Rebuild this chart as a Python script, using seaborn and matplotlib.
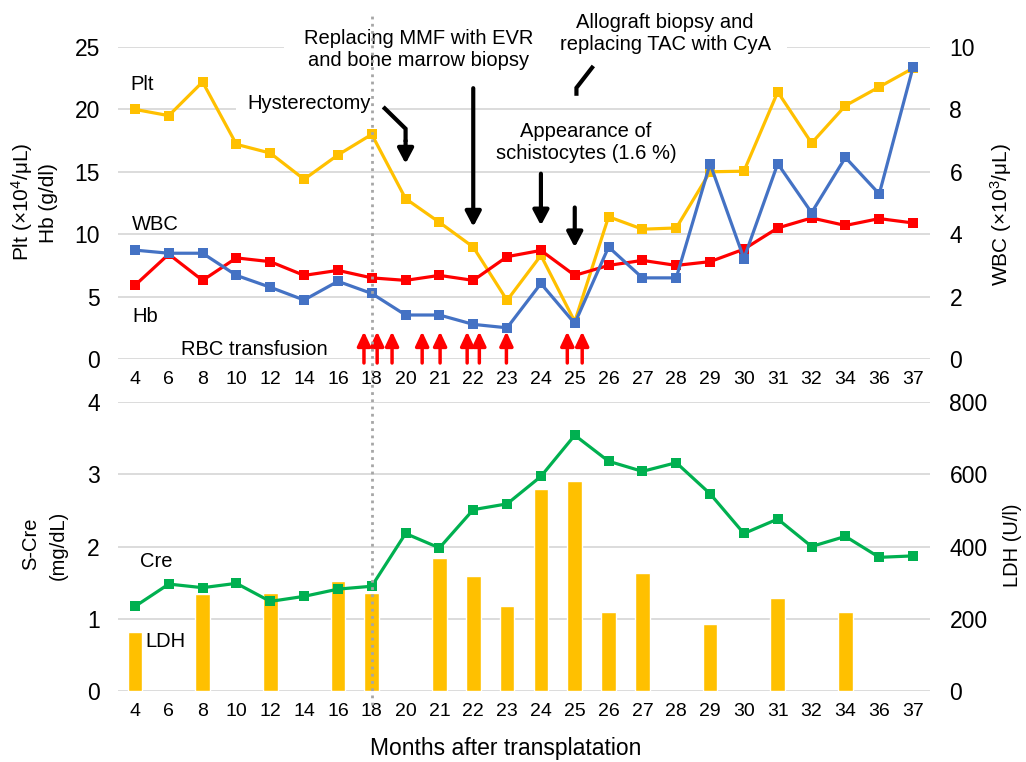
import numpy as np
import pandas as pd
import matplotlib
matplotlib.use('Agg')
import matplotlib.pyplot as plt
import matplotlib.transforms as mtransforms
from matplotlib.lines import Line2D
import seaborn as sns

# ---------------- data ----------------
months = ['4', '6', '8', '10', '12', '14', '16', '18', '20', '21', '22', '23',
          '24', '25', '26', '27', '28', '29', '30', '31', '32', '34', '36', '37']
plt_vals = [20.0, 19.5, 22.2, 17.2, 16.5, 14.4, 16.35, 18.0, 12.85, 10.95, 8.97, 4.7,
            8.3, 3.0, 11.4, 10.4, 10.5, 15.0, 15.05, 21.4, 17.3, 20.3, 21.8, 23.3]
hb_vals = [5.9, 8.4, 6.3, 8.1, 7.8, 6.7, 7.1, 6.5, 6.3, 6.7, 6.3, 8.2,
           8.7, 6.7, 7.5, 7.9, 7.5, 7.8, 8.8, 10.5, 11.3, 10.7, 11.25, 10.9]
wbc_vals = [3.49, 3.39, 3.39, 2.68, 2.30, 1.89, 2.49, 2.10, 1.41, 1.41, 1.11, 1.0,
            2.42, 1.14, 3.59, 2.6, 2.6, 6.26, 3.22, 6.26, 4.69, 6.46, 5.29, 9.36]
cre_vals = [1.17, 1.48, 1.43, 1.49, 1.24, 1.31, 1.41, 1.45, 2.18, 1.98, 2.51, 2.59,
            2.97, 3.54, 3.18, 3.04, 3.16, 2.73, 2.18, 2.38, 2.0, 2.14, 1.85, 1.87]
nan = np.nan
ldh_vals = [162, nan, 269, nan, 271, nan, 305, 271, nan, 368, 319, 234,
            559, 581, 218, 327, nan, 186, nan, 257, nan, 218, nan, nan]
# RBC transfusion events (position along the category axis)
transfusion_pos = [6.77, 7.16, 7.6, 8.49, 9.02, 9.82, 10.18, 10.98, 12.78, 13.22]

# ---------------- style ----------------
sns.set_theme(style='white')
plt.rcParams['font.family'] = ['Liberation Sans', 'DejaVu Sans']
plt.rcParams['mathtext.fontset'] = 'custom'
plt.rcParams['mathtext.rm'] = 'Liberation Sans'
plt.rcParams['mathtext.it'] = 'Liberation Sans:italic'
plt.rcParams['mathtext.bf'] = 'Liberation Sans:bold'
plt.rcParams['text.color'] = 'black'
plt.rcParams['axes.labelcolor'] = 'black'
plt.rcParams['xtick.color'] = 'black'
plt.rcParams['ytick.color'] = 'black'

C_PLT = '#FFC000'
C_HB = '#FF0000'
C_WBC = '#4472C4'
C_CRE = '#00B050'
C_GRID = '#D9D9D9'

W, H = 1026, 762
fig = plt.figure(figsize=(W / 100, H / 100), dpi=100)

def fx(px):
    return px / W

def fy(py):
    return 1 - py / H

ax_t = fig.add_axes([fx(118), fy(359), fx(812), 312 / H])
ax_t2 = ax_t.twinx()
ax_b = fig.add_axes([fx(118), fy(691), fx(812), 289 / H])
ax_b2 = ax_b.twinx()

pos = np.arange(len(months))
top_df = pd.DataFrame({'pos': pos, 'month': months, 'Plt': plt_vals,
                       'Hb': hb_vals, 'WBC': wbc_vals})
bot_df = pd.DataFrame({'pos': pos, 'month': months, 'Cre': cre_vals, 'LDH': ldh_vals})

lw = 2.3
ms = 6.5
# ---------------- top panel ----------------
sns.lineplot(data=top_df, x='pos', y='Plt', ax=ax_t, color=C_PLT, lw=lw,
             marker='s', markersize=ms, markeredgewidth=0, zorder=3)
sns.lineplot(data=top_df, x='pos', y='Hb', ax=ax_t, color=C_HB, lw=lw,
             marker='s', markersize=ms, markeredgewidth=0, zorder=3)
sns.lineplot(data=top_df, x='pos', y='WBC', ax=ax_t2, color=C_WBC, lw=lw,
             marker='s', markersize=ms, markeredgewidth=0, zorder=3)

ax_t.set_ylim(0, 25)
ax_t2.set_ylim(0, 10)
ax_t.set_yticks([0, 5, 10, 15, 20, 25])
ax_t2.set_yticks([0, 2, 4, 6, 8, 10])
ax_t.yaxis.grid(True, color=C_GRID, lw=1.3)
ax_t.set_axisbelow(True)

# ---------------- bottom panel ----------------
sns.barplot(data=bot_df, x='month', y='LDH', order=months, ax=ax_b2,
            color=C_PLT, saturation=1, width=0.43, errorbar=None)
sns.lineplot(data=bot_df, x='pos', y='Cre', ax=ax_b, color=C_CRE, lw=lw,
             marker='s', markersize=ms, markeredgewidth=0, zorder=3)
ax_b.set_zorder(ax_b2.get_zorder() + 1)
ax_b.patch.set_visible(False)
ax_b.set_ylim(0, 4)
ax_b2.set_ylim(0, 800)
ax_b.set_yticks([0, 1, 2, 3, 4])
ax_b2.set_yticks([0, 200, 400, 600, 800])
ax_b2.yaxis.grid(True, color=C_GRID, lw=1.3)
ax_b2.set_axisbelow(True)

for a in (ax_t, ax_t2, ax_b, ax_b2):
    for s in a.spines.values():
        s.set_visible(False)
    a.set_xlabel('')
    a.set_ylabel('')
    a.tick_params(length=0)
    a.set_xlim(-0.5, len(months) - 0.5)

for a in (ax_t, ax_b):
    a.set_xticks(pos)
    a.set_xticklabels(months, fontsize=14)
    a.tick_params(axis='x', pad=9, colors='black')
    a.tick_params(axis='y', labelsize=16.5, pad=13, colors='black')
for a in (ax_t2, ax_b2):
    a.tick_params(axis='y', labelsize=16.5, pad=14, colors='black')

# ---------------- axis titles ----------------
fig.text(fx(22), fy(202), r'Plt (×10$^{4}$/μL)', rotation=90, ha='center', va='center', fontsize=15)
fig.text(fx(48), fy(203), 'Hb (g/dl)', rotation=90, ha='center', va='center', fontsize=15)
fig.text(fx(1001), fy(215), r'WBC (×10$^{3}$/μL)', rotation=90, ha='center', va='center', fontsize=15)
fig.text(fx(31), fy(544), 'S-Cre', rotation=90, ha='center', va='center', fontsize=14.5)
fig.text(fx(58), fy(545), '(mg/dL)', rotation=90, ha='center', va='center', fontsize=14.5)
fig.text(fx(1013), fy(545), 'LDH (U/l)', rotation=90, ha='center', va='center', fontsize=14.5)
fig.text(fx(506), fy(749), 'Months after transplatation', ha='center', va='center', fontsize=16.5)

# ---------------- series labels ----------------
fs = 14.5
ax_t.text(-0.13, 22.0, 'Plt', fontsize=fs, ha='left', va='center')
ax_t.text(-0.1, 10.74, 'WBC', fontsize=fs, ha='left', va='center')
ax_t.text(-0.07, 3.43, 'Hb', fontsize=fs, ha='left', va='center')
ax_t.text(1.36, 0.8, 'RBC transfusion', fontsize=fs, ha='left', va='center')
ax_b.text(0.15, 1.79, 'Cre', fontsize=fs, ha='left', va='center')
ax_b.text(0.3, 0.68, 'LDH', fontsize=fs, ha='left', va='center')

ax_t.text(6.98, 20.45, 'Hysterectomy', fontsize=fs, ha='right', va='center',
          bbox=dict(facecolor='white', edgecolor='none', pad=8), zorder=4)
ax_t.text(8.38, 24.76, 'Replacing MMF with EVR\nand bone marrow biopsy', fontsize=fs,
          ha='center', va='center', linespacing=1.2,
          bbox=dict(facecolor='white', edgecolor='none', pad=14), zorder=4)
ax_t.text(15.67, 26.08, 'Allograft biopsy and\nreplacing TAC with CyA', fontsize=fs,
          ha='center', va='center', linespacing=1.2,
          bbox=dict(facecolor='white', edgecolor='none', pad=12), zorder=4, clip_on=False)
ax_t.text(13.33, 17.33, 'Appearance of\nschistocytes (1.6 %)', fontsize=fs,
          ha='center', va='center', linespacing=1.2, zorder=4)

# ---------------- black event arrows ----------------
akw = dict(arrowstyle='-|>,head_length=0.85,head_width=0.45', color='black', lw=3,
           shrinkA=0, shrinkB=0, mutation_scale=10.5)
# hysterectomy (bent)
ax_t.plot([7.34, 8.0, 8.0], [20.2, 18.45, 17.4], color='black', lw=3,
          solid_capstyle='butt', solid_joinstyle='miter', zorder=5)
ax_t.annotate('', xy=(8.0, 15.65), xytext=(8.0, 17.5), arrowprops=akw, zorder=5)
ax_t.annotate('', xy=(10.0, 10.6), xytext=(10.0, 21.7), arrowprops=akw, zorder=5)
ax_t.annotate('', xy=(12.0, 10.7), xytext=(12.0, 14.85), arrowprops=akw, zorder=5)
ax_t.annotate('', xy=(13.0, 8.95), xytext=(13.0, 12.14), arrowprops=akw, zorder=5)
# allograft (bent line)
ax_t.plot([13.55, 13.05, 13.05], [23.48, 21.73, 21.09], color='black', lw=3,
          solid_capstyle='butt', solid_joinstyle='miter', zorder=5, clip_on=False)

# ---------------- red transfusion arrows ----------------
rkw = dict(arrowstyle='-|>,head_length=0.85,head_width=0.4', color='#FF0000', lw=2.5,
           shrinkA=0, shrinkB=0, mutation_scale=10)
for p in transfusion_pos:
    ax_t.annotate('', xy=(p, 2.2), xytext=(p, -0.32), arrowprops=rkw,
                  annotation_clip=False, zorder=5)

# ---------------- dotted vertical line at month 18 ----------------
trans = mtransforms.blended_transform_factory(ax_t.transData, fig.transFigure)
fig.add_artist(Line2D([7, 7], [fy(705), fy(15)], transform=trans, color='#A6A6A6',
                      lw=2, linestyle=(0, (1, 1.6)), zorder=10))

fig.savefig('out.png', dpi=100, facecolor='white')
